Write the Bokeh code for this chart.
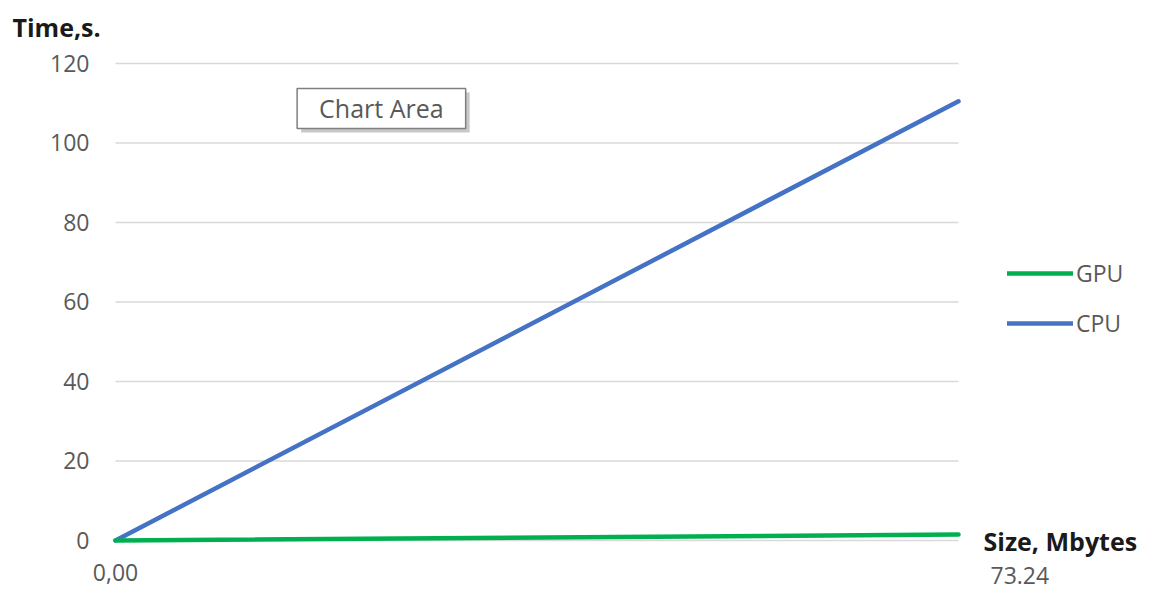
from bokeh.plotting import figure
from bokeh.models import Range1d, Label, Legend, LegendItem
from bokeh.embed import file_html
from bokeh.resources import INLINE
from bokeh.core.properties import value

sizes = [0.0, 73.24]
cpu_times = [0.0, 110.5]
gpu_times = [0.0, 1.5]
y_ticks = [0, 20, 40, 60, 80, 100, 120]
x_first_label = "0,00"
x_last_label = "73.24"

FONT = "Open Sans"
GRAY = "#595959"
X_MIN, X_MAX = sizes[0], sizes[-1]

# Frame spans the whole canvas; ranges chosen so that data area sits where the reference has it
p = figure(width=1162, height=590, output_backend="svg", toolbar_location=None,
           x_range=Range1d(-9.991, 90.963), y_range=Range1d(-12.579, 135.849),
           min_border=0)
p.outline_line_color = None
p.xaxis.visible = False
p.yaxis.visible = False
p.xgrid.visible = False
p.ygrid.visible = False

# horizontal gridlines over the data extent
p.segment(x0=[X_MIN] * len(y_ticks), x1=[X_MAX] * len(y_ticks), y0=y_ticks, y1=y_ticks,
          line_color="#d9d9d9", line_width=1.5)

# y tick labels
p.text(x=[X_MIN] * len(y_ticks), y=y_ticks, text=[str(t) for t in y_ticks],
       x_offset=-26, text_align="right", text_baseline="middle",
       text_font=value(FONT), text_font_size="23px", text_color=GRAY)

r_cpu = p.line(sizes, cpu_times, line_color="#4472C4", line_width=4.5, line_cap="round")
r_gpu = p.line(sizes, gpu_times, line_color="#00B050", line_width=4.5, line_cap="round")

legend = Legend(items=[LegendItem(label="GPU", renderers=[r_gpu]),
                       LegendItem(label="CPU", renderers=[r_cpu])],
                location=(1007, 251), border_line_color=None, background_fill_alpha=0,
                glyph_width=66, glyph_height=20, label_height=20, spacing=18,
                label_standoff=3, margin=0, padding=0,
                label_text_font=FONT, label_text_font_size="23px", label_text_color=GRAY)
p.add_layout(legend, "center")

p.add_layout(Label(x=X_MIN, y=0, y_offset=-32, text=x_first_label,
                   text_align="center", text_baseline="middle",
                   text_font=FONT, text_font_size="23px", text_color=GRAY))
p.add_layout(Label(x=X_MAX, y=0, x_offset=32, y_offset=-35, text=x_last_label,
                   text_align="left", text_baseline="middle",
                   text_font=FONT, text_font_size="23px", text_color=GRAY))
p.add_layout(Label(x=X_MAX, y=0, x_offset=25, y_offset=-1, text="Size, Mbytes",
                   text_align="left", text_baseline="middle",
                   text_font=FONT, text_font_style="bold", text_font_size="25px", text_color="#1a1a1a"))
p.add_layout(Label(x=X_MIN, y=120, x_offset=-103, y_offset=36, text="Time,s.",
                   text_align="left", text_baseline="middle",
                   text_font=FONT, text_font_style="bold", text_font_size="25px", text_color="#1a1a1a"))

# "Chart Area" tooltip with shadow
p.add_layout(Label(x=23.1, y=108.7, x_offset=4, y_offset=-4, text="Chart Area",
                   text_align="center", text_baseline="middle",
                   text_font=FONT, text_font_size="25px", text_color="#c8c8c8",
                   background_fill_color="#c8c8c8", padding=(22, 3)))
p.add_layout(Label(x=23.1, y=108.7, text="Chart Area",
                   text_align="center", text_baseline="middle",
                   text_font=FONT, text_font_size="25px", text_color=GRAY,
                   background_fill_color="white", border_line_color="#7f7f7f",
                   border_line_width=1.5, padding=(22, 3)))

open("out.html", "w").write(file_html(p, INLINE))
